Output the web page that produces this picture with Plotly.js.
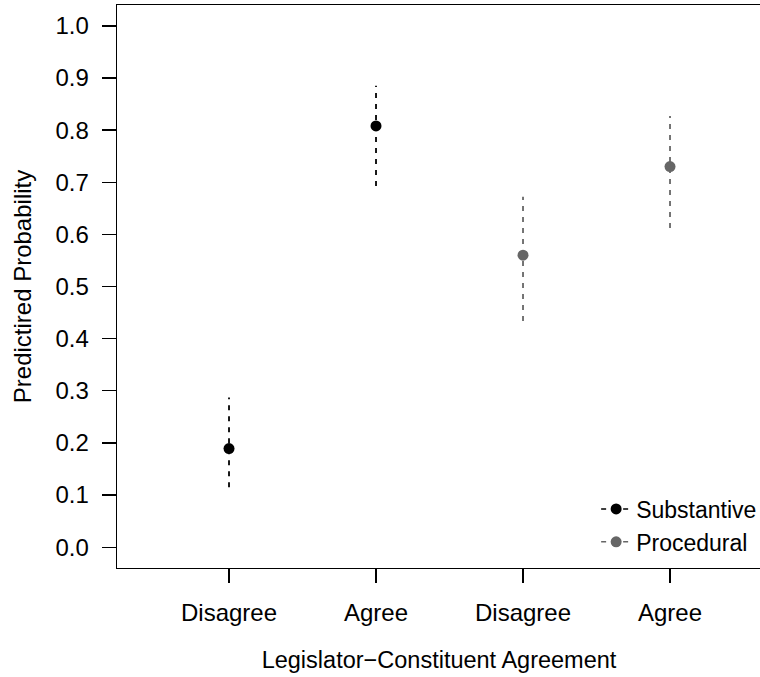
<!DOCTYPE html>
<html>
<head>
<meta charset="utf-8">
<script src="https://cdn.plot.ly/plotly-3.0.1.min.js"></script>
<style>
html,body{margin:0;padding:0;overflow:hidden;background:#fff;}
#chart{width:800px;height:677px;}
</style>
</head>
<body>
<div id="chart"></div>
<script>
// Data
var tickLabels = ["Disagree", "Agree", "Disagree", "Agree"];
var seriesNames = ["Substantive", "Procedural"];
var substantiveX = [1, 2];
var substantiveEst = [0.189, 0.808];
var substantiveLo = [0.115, 0.693];
var substantiveHi = [0.287, 0.885];
var proceduralX = [3, 4];
var proceduralEst = [0.560, 0.730];
var proceduralLo = [0.434, 0.612];
var proceduralHi = [0.672, 0.827];

var FONT = '"Liberation Sans", Arial, Helvetica, sans-serif';
var FS = 24;

function ciTrace(xs, lo, hi, color) {
  var x = [], y = [];
  for (var i = 0; i < xs.length; i++) {
    x.push(xs[i], xs[i], null);
    y.push(lo[i], hi[i], null);
  }
  return {
    type: 'scatter', mode: 'lines', x: x, y: y,
    line: {color: color, width: 1.8, dash: '5px,6px'},
    showlegend: false, hoverinfo: 'skip'
  };
}
function pointTrace(xs, est, color, name) {
  var x = [], y = [];
  for (var i = 0; i < xs.length; i++) {
    if (i > 0) { x.push(null); y.push(null); }
    x.push(xs[i]); y.push(est[i]);
  }
  return {
    type: 'scatter', mode: 'lines+markers', x: x, y: y, name: name,
    connectgaps: false,
    line: {color: color, width: 1.5, dash: '5px,6px'},
    marker: {color: color, size: 11}
  };
}

var traces = [
  ciTrace(substantiveX, substantiveLo, substantiveHi, '#000000'),
  ciTrace(proceduralX, proceduralLo, proceduralHi, '#666666'),
  pointTrace(substantiveX, substantiveEst, '#000000', seriesNames[0]),
  pointTrace(proceduralX, proceduralEst, '#666666', seriesNames[1])
];

var layout = {
  width: 800, height: 677,
  margin: {l: 117, r: 39, t: 5, b: 109},
  paper_bgcolor: '#ffffff', plot_bgcolor: '#ffffff',
  font: {family: FONT, size: FS, color: '#000'},
  showlegend: true,
  legend: {
    x: 0.744, y: 0.143, xanchor: 'left', yanchor: 'top',
    bgcolor: 'rgba(0,0,0,0)', borderwidth: 0,
    font: {family: FONT, size: 23, color: '#000'},
    tracegroupgap: 0
  },
  xaxis: {
    range: [0.238, 4.619],
    tickmode: 'array',
    tickvals: substantiveX.concat(proceduralX),
    ticktext: tickLabels,
    ticks: 'outside', ticklen: 14, tickwidth: 1.3, tickcolor: '#000',
    ticklabelstandoff: 9,
    showline: true, mirror: true, linecolor: '#000', linewidth: 1.3,
    showgrid: false, zeroline: false,
    tickfont: {family: FONT, size: FS, color: '#000'},
    title: {text: 'Legislator\u2212Constituent Agreement', standoff: 26,
            font: {family: FONT, size: 23.5, color: '#000'}}
  },
  yaxis: {
    range: [-0.04, 1.04],
    tickmode: 'linear', tick0: 0, dtick: 0.1, tickformat: '.1f',
    ticks: 'outside', ticklen: 14, tickwidth: 1.3, tickcolor: '#000',
    ticklabelstandoff: 8,
    showline: true, mirror: true, linecolor: '#000', linewidth: 1.3,
    showgrid: false, zeroline: false,
    tickfont: {family: FONT, size: FS, color: '#000'},
    title: {text: 'Predictired Probability', standoff: 17,
            font: {family: FONT, size: FS, color: '#000'}}
  }
};

Plotly.newPlot('chart', traces, layout, {displayModeBar: false, staticPlot: true});
</script>
</body>
</html>
